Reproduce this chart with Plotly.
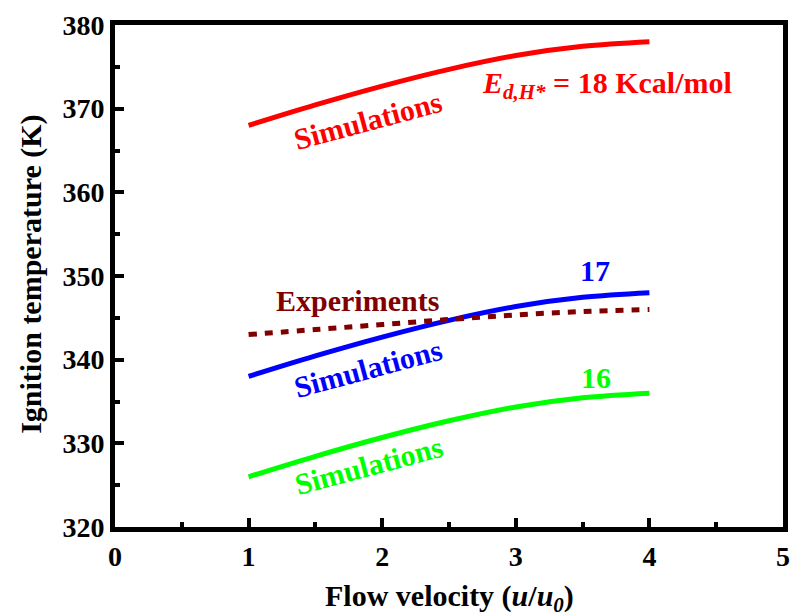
import plotly.graph_objects as go

# Data
flow_x = [1.0, 1.5, 2.0, 2.5, 3.0, 3.5, 4.0]
sim18 = [368.0, 370.45, 372.7, 374.7, 376.35, 377.45, 378.0]
sim17 = [338.0, 340.45, 342.7, 344.7, 346.35, 347.45, 348.0]
sim16 = [326.0, 328.45, 330.7, 332.7, 334.35, 335.45, 336.0]
experiments = [343.0, 343.6, 344.2, 344.8, 345.35, 345.75, 346.0]

x_ticks = [0, 1, 2, 3, 4, 5]
y_ticks = [320, 330, 340, 350, 360, 370, 380]

FONT = "Liberation Serif, Times New Roman, serif"

fig = go.Figure()
fig.add_trace(go.Scatter(x=flow_x, y=sim18, mode="lines", line=dict(color="#FF0000", width=5, shape="spline")))
fig.add_trace(go.Scatter(x=flow_x, y=sim17, mode="lines", line=dict(color="#0000FF", width=5, shape="spline")))
fig.add_trace(go.Scatter(x=flow_x, y=sim16, mode="lines", line=dict(color="#00FF00", width=5, shape="spline")))
fig.add_trace(go.Scatter(x=flow_x, y=experiments, mode="lines",
                         line=dict(color="#800000", width=5, shape="spline", dash="8px,8px")))

def ann(text, x, y, color, size=30, angle=0):
    fig.add_annotation(x=x, y=y, xref="x", yref="y", text="<b>" + text + "</b>", showarrow=False,
                       textangle=angle, xanchor="center", yanchor="middle",
                       font=dict(family=FONT, size=size, color=color))

ann("Simulations", 1.89, 368.6, "#FF0000", angle=-15)
ann("<i>E</i><sub><i>d,H*</i></sub> = 18 Kcal/mol", 3.68, 372.8, "#FF0000")
ann("17", 3.59, 350.6, "#0000FF")
ann("Experiments", 1.815, 347.1, "#800000")
ann("Simulations", 1.89, 339.0, "#0000FF", angle=-15)
ann("16", 3.6, 337.9, "#00FF00")
ann("Simulations", 1.9, 327.3, "#00FF00", angle=-15)

fig.add_annotation(x=0.5, y=-0.1, xref="paper", yref="paper", showarrow=False,
                   xanchor="center", yanchor="top",
                   text="<b>Flow velocity (<i>u</i>/<i>u</i><sub><i>0</i></sub>)</b>",
                   font=dict(family=FONT, size=30, color="black"))
fig.add_annotation(x=-0.126, y=0.504, xref="paper", yref="paper", showarrow=False, textangle=-90,
                   xanchor="center", yanchor="middle",
                   text="<b>Ignition temperature (K)</b>",
                   font=dict(family=FONT, size=30, color="black"))

axis_common = dict(showline=True, linewidth=5, linecolor="black", mirror=True,
                   ticks="inside", tickwidth=4, ticklen=9, tickcolor="black",
                   showgrid=False, zeroline=False,
                   tickfont=dict(family=FONT, size=28, color="black"))

fig.update_xaxes(range=[0, 5], tickvals=x_ticks, ticktext=["<b>%d</b>" % v for v in x_ticks],
                 minor=dict(ticks="inside", ticklen=5, tickwidth=4, tickcolor="black", dtick=0.5, tick0=0),
                 **axis_common)
fig.update_yaxes(range=[320, 380], tickvals=y_ticks, ticktext=["<b>%d</b>" % v for v in y_ticks],
                 minor=dict(ticks="inside", ticklen=5, tickwidth=4, tickcolor="black", dtick=5, tick0=320),
                 **axis_common)

fig.update_layout(width=798, height=612, showlegend=False,
                  margin=dict(l=115, r=8, t=25, b=85),
                  plot_bgcolor="white", paper_bgcolor="white")

fig.write_html("out.html")
